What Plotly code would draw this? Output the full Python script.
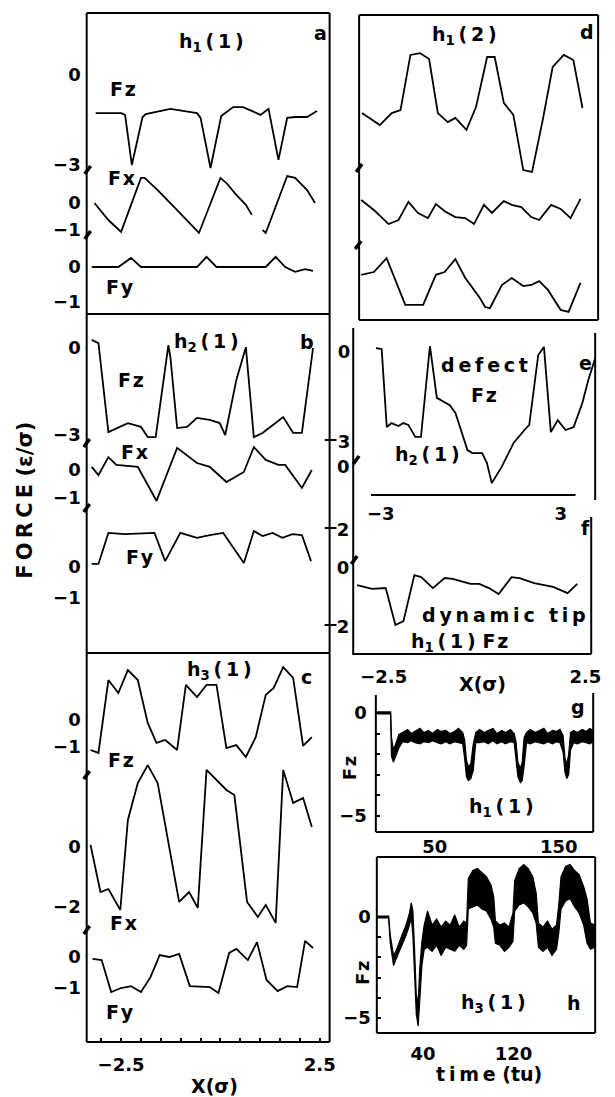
import plotly.graph_objects as go

W, H = 615, 1097
OFF = 8                      # default page margin of the html body
FW, FH = W - OFF, H - OFF    # figure size so that it fills the window

# ---------------- data ----------------
# panel a : h1(1)
a_fz_x = [-3.14, -2.50, -2.40, -2.23, -1.96, -1.88, -1.26, -0.59, -0.50, -0.25, 0.02, 0.32, 0.57, 1.01, 1.21, 1.46, 1.68, 1.88, 2.18, 2.43]
a_fz = [-1.27, -1.27, -1.33, -3.0, -1.4, -1.3, -1.13, -1.27, -1.43, -3.1, -1.37, -1.07, -1.07, -1.33, -1.13, -2.83, -1.43, -1.4, -1.4, -1.2]
a_fx_x = [-3.17, -2.82, -2.50, -2.00, -1.91, -1.58, -1.09, -0.54, 0.00, 0.15, 0.40, 0.64, 0.79, None, 1.06, 1.14, 1.68, 1.88, 2.18, 2.38]
a_fx = [0.0, -0.63, -1.07, 0.93, 0.93, 0.48, -0.26, -1.11, 0.93, 0.74, 0.30, -0.07, -0.44, None, -1.0, -1.11, 1.0, 0.93, 0.48, 0.0]
a_fy_x = [-3.24, -2.57, -2.25, -2.00, -0.59, -0.35, -0.10, 1.14, 1.39, 1.63, 1.88, 2.13, 2.33]
a_fy = [0, 0, 0.26, 0, 0, 0.29, 0, 0, 0.29, 0, -0.14, -0.06, -0.11]

# panel b : h2(1)
b_fz_x = [-3.24, -3.07, -2.82, -2.33, -2.00, -1.83, -1.63, -1.31, -1.26, -1.09, -0.84, -0.59, -0.27, -0.02, 0.12, 0.40, 0.64, 0.84, 1.06, 1.31, 1.58, 1.83, 2.05, 2.33]
b_fz = [0.28, 0.17, -2.9, -2.59, -2.72, -3.07, -3.07, 0.10, -0.31, -2.76, -2.72, -2.41, -2.48, -2.59, -3.0, -1.10, 0.03, -3.07, -2.93, -2.66, -2.38, -2.93, -2.93, 0.0]
b_fx_x = [-3.24, -3.07, -2.82, -2.62, -2.08, -1.61, -1.09, -0.59, -0.27, 0.15, 0.59, 0.84, 1.14, 1.46, 1.63, 2.05, 2.30]
b_fx = [0.11, -0.18, 0.46, 0.18, 0.11, -1.1, 0.79, 0.25, 0.11, -0.43, -0.07, 0.82, 0.36, 0.18, 0.18, -0.64, 0.0]
b_fy_x = [-3.24, -3.07, -2.82, -2.40, -1.66, -1.39, -1.01, -0.59, -0.27, 0.07, 0.59, 0.84, 1.06, 1.31, 1.56, 1.81, 2.05, 2.28]
b_fy = [0.1, 0.1, 1.1, 1.06, 1.1, 0.19, 1.1, 0.94, 1.03, 1.1, 0.13, 1.16, 1.0, 1.1, 0.94, 1.06, 1.03, 0.19]

# panel c : h3(1)
c_fz_x = [-3.27, -3.07, -2.82, -2.57, -2.33, -2.08, -1.83, -1.61, -1.39, -1.09, -0.87, -0.59, -0.35, -0.10, 0.15, 0.40, 0.64, 0.89, 1.14, 1.34, 1.58, 1.83, 2.08, 2.30]
c_fz = [-1.11, -1.22, 1.48, 1.0, 1.85, 1.48, -0.11, -0.85, -0.74, -1.11, 1.3, 0.85, 1.3, 1.3, -1.04, -0.93, -1.37, -0.63, 0.93, 1.19, 1.96, 1.56, -0.96, -0.63]
c_fx_x = [-3.27, -3.02, -2.82, -2.52, -2.33, -2.08, -1.83, -1.58, -1.04, -0.79, -0.57, -0.35, 0.15, 0.35, 0.67, 0.94, 1.14, 1.39, 1.58, 1.83, 2.08, 2.30]
c_fx = [0.07, -1.5, -1.4, -2.1, 0.9, 2.13, 2.73, 2.13, -1.83, -1.5, -2.03, 2.57, 1.9, 1.73, -1.83, -2.33, -1.93, -2.53, 2.57, 1.47, 1.63, 0.67]
c_fy_x = [-3.22, -2.99, -2.75, -2.50, -2.25, -2.00, -1.76, -1.53, -1.29, -1.04, -0.77, -0.27, -0.05, 0.22, 0.40, 0.69, 0.92, 1.16, 1.44, 1.68, 1.93, 2.13, 2.33]
c_fy = [-0.06, -0.1, -1.13, -1.0, -0.94, -1.13, -0.65, 0.06, 0.0, 0.1, -0.94, -0.97, -1.16, 0.13, 0.26, -0.1, 0.48, -0.74, -1.1, -0.94, -0.97, 0.52, 0.29]

# panel d : h1(2)
d_fz_x = [-3.27, -2.82, -2.52, -2.30, -2.05, -1.81, -1.58, -1.36, -1.11, -0.92, -0.64, -0.40, -0.12, 0.07, 0.30, 0.54, 0.79, 1.01, 1.29, 1.53, 1.81, 2.05, 2.28]
d_fz = [-1.27, -1.67, -1.27, -1.17, 0.67, 0.73, 0.53, -1.27, -1.57, -1.43, -1.83, -1.07, 0.6, 0.6, -0.93, -1.33, -3.17, -3.23, -1.43, 0.27, 0.67, 0.5, -1.1]
d_fx_x = [-3.29, -2.97, -2.60, -2.35, -2.10, -1.86, -1.61, -1.41, -1.16, -0.92, -0.67, -0.45, -0.20, 0.00, 0.30, 0.50, 0.74, 0.99, 1.19, 1.49, 1.73, 1.98, 2.23]
d_fx = [0.37, 0, -0.52, -0.37, 0.30, -0.11, -0.30, 0.22, -0.07, -0.26, -0.30, -0.52, 0.19, -0.11, 0.33, 0.19, 0.11, -0.26, -0.37, 0.19, 0.04, -0.30, 0.41]
d_fy_x = [-3.29, -2.97, -2.65, -2.18, -1.98, -1.73, -1.41, -1.19, -0.92, -0.67, -0.32, -0.17, -0.05, 0.25, 0.50, 0.79, 0.99, 1.19, 1.41, 1.73, 1.93, 2.23]
d_fy = [0.29, 0.37, 0.77, -0.57, -0.57, -0.57, 0.29, 0.37, 0.74, 0.2, -0.34, -0.63, -0.66, 0, 0.2, -0.03, 0, 0.11, -0.14, -0.71, -0.77, 0.06]

# panel e : defect Fz, h2(1)
e_x = [-3.16, -2.97, -2.80, -2.64, -2.41, -2.25, -2.08, -1.85, -1.66, -1.36, -1.13, -0.70, -0.51, -0.11, 0.05, 0.38, 0.54, 0.70, 1.03, 1.43, 1.79, 1.95, 2.25, 2.44, 2.67, 2.90, 3.16, 3.43, 3.72, 3.92, 4.15]
e_fz = [0.13, 0.1, -2.5, -2.37, -2.47, -2.37, -2.43, -2.83, -2.83, 0.2, -1.53, -1.77, -2.03, -3.27, -3.37, -3.37, -3.7, -4.37, -3.83, -3.03, -2.6, -2.43, -0.1, 0.17, -2.67, -2.27, -2.6, -2.5, -1.7, -0.93, -0.2]

# panel f : dynamic tip, h1(1) Fz
f_x = [-3.16, -2.79, -2.45, -2.21, -2.01, -1.74, -1.57, -1.28, -0.99, -0.79, -0.35, -0.13, 0.11, 0.35, 0.67, 0.87, 1.23, 1.70, 2.06, 2.30]
f_fz = [-0.58, -0.71, -0.68, -1.93, -1.80, -0.24, -0.31, -0.68, -0.34, -0.37, -0.54, -0.54, -0.68, -0.88, -0.31, -0.34, -0.51, -0.64, -0.85, -0.54]

# panel g : Fz(time) h1(1), upper / lower edge of the noisy trace
g_t = [2.4, 14.3, 15.0, 16.5, 18.5, 21, 24, 28, 31, 34, 38, 41, 45, 48, 52, 55, 59, 62, 66, 69, 72.5,
       74, 75.5, 77, 79, 81, 83, 86, 90, 93, 97, 100, 104, 107, 111, 114,
       115.5, 117, 119, 120.5, 122, 124, 127, 131, 134, 138, 141, 145, 148, 151,
       153.5, 155, 156.5, 158, 159.5, 162, 165, 169, 172, 175, 177.8]
g_hi = [0.05, 0.05, -1.2, -1.8, -1.5, -1.05, -0.95, -0.8, -1.0, -0.9, -0.75, -0.95, -0.85, -1.0, -0.8, -0.9, -0.85, -1.0, -0.9, -0.75, -0.95,
        -1.3, -2.3, -2.6, -2.5, -1.5, -0.95, -0.8, -0.95, -0.85, -0.75, -1.0, -0.85, -0.95, -0.8, -1.0,
        -1.4, -2.4, -2.7, -2.4, -1.2, -0.95, -0.8, -0.95, -0.85, -0.75, -1.0, -0.85, -0.9, -0.8,
        -1.1, -2.2, -2.5, -2.0, -0.95, -0.85, -0.95, -0.8, -0.9, -0.75, -0.85]
g_lo = [-0.05, -0.05, -2.1, -2.4, -2.1, -1.7, -1.4, -1.45, -1.35, -1.45, -1.5, -1.4, -1.45, -1.35, -1.45, -1.5, -1.4, -1.5, -1.4, -1.45, -1.5,
        -2.2, -3.1, -3.3, -3.2, -2.8, -1.45, -1.45, -1.4, -1.5, -1.35, -1.5, -1.4, -1.5, -1.4, -1.45,
        -2.3, -3.1, -3.4, -3.3, -2.6, -1.45, -1.5, -1.4, -1.45, -1.5, -1.4, -1.5, -1.4, -1.45,
        -1.9, -2.9, -3.2, -3.0, -1.8, -1.45, -1.5, -1.4, -1.45, -1.5, -1.4]

# panel h : Fz(time) h3(1)
h_t = [-0.9, 9.6, 11, 13.9, 16, 19, 22, 25, 28, 29.6, 31, 32.5, 34, 35.7, 37, 39, 41,
       44, 48, 52, 56, 60, 64, 68, 72, 76, 78.5,
       80, 84, 88, 92, 96, 100, 102.5,
       104, 108, 112, 116, 119.5,
       121, 125, 129, 133, 137, 140,
       142, 146, 150, 154, 158,
       160, 162, 166, 170, 174, 178, 182, 185, 188, 192]
h_hi = [0.05, 0.05, -0.9, -1.9, -1.7, -1.2, -0.8, -0.4, 0.2, 0.7, 0.3, -1.6, -3.8, -4.3, -2.6, -1.2, -0.4,
        0.3, -0.4, -0.1, -0.5, -0.2, -0.4, 0.1, -0.5, -0.2, -0.3,
        1.9, 2.3, 2.4, 2.2, 2.0, 1.6, 1.0,
        -0.2, -0.4, -0.3, -0.5, 0.2,
        1.8, 2.4, 2.6, 2.4, 2.0, 1.2,
        -0.3, -0.5, -0.2, -0.6, -0.4,
        0.6, 2.0, 2.5, 2.6, 2.3, 2.1, 1.5, 0.9, -0.3, -0.4]
h_lo = [-0.05, -0.05, -1.3, -2.4, -2.1, -1.7, -1.3, -0.9, -0.4, 0.0, -0.9, -3.0, -4.8, -5.4, -4.1, -2.4, -1.6,
        -1.5, -1.7, -1.4, -1.9, -1.5, -1.6, -1.7, -1.4, -1.6, -1.4,
        0.4, 0.5, 0.6, 0.4, 0.3, -0.1, -0.5,
        -1.3, -1.4, -1.7, -1.5, -1.2,
        0.3, 0.6, 0.7, 0.5, 0.2, -0.3,
        -1.5, -1.7, -1.5, -1.9, -1.6,
        -0.8, 0.4, 0.8, 0.9, 0.5, 0.2, -0.4, -1.3, -1.6, -1.5]

# tick values and labels
ticks_a = {"fz": ([0, -3], ["0", "−3"]), "fx": ([0, -1], ["0", "−1"]), "fy": ([0, -1], ["0", "−1"])}
ticks_b = {"fz": ([0, -3], ["0", "−3"]), "fx": ([0, -1], ["0", "−1"]), "fy": ([0, -1], ["0", "−1"])}
ticks_c = {"fz": ([0, -1], ["0", "−1"]), "fx": ([0, -2], ["0", "−2"]), "fy": ([0, -1], ["0", "−1"])}
ticks_e = ([0, -3], ["0", "3"])            # the minus of "-3" is the tick of panel b's edge
ticks_f = ([1.29, 0, -2], ["2", "0", "2"])
ticks_g = ([0, -5], ["0", "−5"])
ticks_h = ([0, -5], ["0", "−5"])
xt_left = ([-2.5, 2.5], ["−2.5", "2.5"])
xt_e = ([-3, 3], ["−3", "3"])
xt_f = ([-2.5, 2.5], ["−2.5", "2.5"])
xt_g = ([50, 150], ["50", "150"])
xt_h = ([40, 120], ["40", "120"])

# ---------------- helpers (pixel geometry -> paper / axis ranges) ----------------
def fx(p):
    return (p - OFF) / FW

def fy(p):
    return 1 - (p - OFF) / FH

def xrange_(L, R, v1, p1, v2, p2):
    k = (p2 - p1) / (v2 - v1)
    return [v1 - (p1 - L) / k, v1 + (R - p1) / k]

def yrange_(T, B, p0, s):
    return [(p0 - B) / s, (p0 - T) / s]

TS = "\u2009"  # thin space used to mimic the wide letter spacing of the original
HS = "\u200a"  # hair space


def spaced(s, sep=TS):
    return sep.join(s)

FONT = dict(family="DejaVu Sans", size=18, color="black", weight="bold")
LINE = dict(color="black", width=1.8)

layout = dict(width=FW, height=FH, margin=dict(l=0, r=0, t=0, b=0),
              paper_bgcolor="white", plot_bgcolor="rgba(0,0,0,0)", showlegend=False)

base_ax = dict(showgrid=False, zeroline=False, showline=False, fixedrange=True, tickfont=FONT)


def add_axis(key, d, ticks, standoff, tick_style, minor):
    if ticks is None:
        d.update(showticklabels=False, ticks="")
    else:
        d.update(tickmode="array", tickvals=ticks[0], ticktext=ticks[1], ticks=tick_style,
                 ticklen=4, tickcolor="black", tickwidth=1.5, ticklabelstandoff=standoff)
    if minor is not None:
        d["minor"] = dict(tickmode="array", tickvals=minor, ticks="inside", ticklen=4,
                          tickcolor="black", tickwidth=1.5)
    layout[key] = d


def add_x(n, L, R, v1, p1, v2, p2, anchor, ticks=None, standoff=0, tick_style="", minor=None):
    d = dict(base_ax, domain=[fx(L), fx(R)], range=xrange_(L, R, v1, p1, v2, p2), anchor=anchor)
    add_axis("xaxis" if n == 1 else f"xaxis{n}", d, ticks, standoff, tick_style, minor)


def add_y(n, T, B, p0, s, anchor, ticks=None, standoff=5, tick_style="", minor=None):
    d = dict(base_ax, domain=[fy(B), fy(T)], range=yrange_(T, B, p0, s), anchor=anchor)
    add_axis("yaxis" if n == 1 else f"yaxis{n}", d, ticks, standoff, tick_style, minor)


add_x(1, 88, 335, -2.5, 123, 2.5, 325, "y")
add_x(2, 88, 335, -2.5, 123, 2.5, 325, "y4")
add_x(3, 88, 335, -2.5, 123, 2.5, 325, "y7", xt_left, 10, "inside",
      [-3.0, -2.0, -1.5, -1.0, -0.5, 0.0, 0.5, 1.0, 1.5, 2.0])
add_x(4, 365, 608, -2.5, 399, 2.5, 601, "y10")
add_x(5, 359, 605, -3, 387, 3, 570, "y13", xt_e, 6)
add_x(6, 358, 601, -2.5, 390, 2.5, 595, "y14", xt_f, 10)
add_x(7, 382, 603, 50, 442, 150, 568, "y15", xt_g, 2)
add_x(8, 383, 605, 40, 430, 120, 522, "y16", xt_h, 8)

add_y(1, 13, 314, 75, 30, "x", ticks_a["fz"])
add_y(2, 13, 314, 203, 27, "x", ticks_a["fx"])
add_y(3, 13, 314, 267, 35, "x", ticks_a["fy"])
add_y(4, 314, 653, 348, 29, "x2", ticks_b["fz"])
add_y(5, 314, 653, 470, 28, "x2", ticks_b["fx"])
add_y(6, 314, 653, 567, 31, "x2", ticks_b["fy"])
add_y(7, 653, 1042, 720, 27, "x3", ticks_c["fz"])
add_y(8, 653, 1042, 847, 30, "x3", ticks_c["fx"])
add_y(9, 653, 1042, 957, 31, "x3", ticks_c["fy"])
add_y(10, 15, 320, 75, 30, "x4")
add_y(11, 15, 320, 210, 27, "x4")
add_y(12, 15, 320, 285, 35, "x4")
add_y(13, 328, 495, 352, 30, "x5", ticks_e, 2)
add_y(14, 500, 654, 568, 29.5, "x6", ticks_f, 2)
add_y(15, 695, 832, 713, 20.5, "x7", ticks_g, 8, "inside", [-1, -2, -3, -4])
add_y(16, 857, 1033, 917, 20.2, "x8", ticks_h, 5, "inside", [-1, -2, -3, -4])

fig = go.Figure()


def line(x, y, xa, ya):
    fig.add_trace(go.Scatter(x=x, y=y, xaxis=xa, yaxis=ya, mode="lines", line=LINE,
                             hoverinfo="skip", connectgaps=False))


line(a_fz_x, a_fz, "x", "y")
line(a_fx_x, a_fx, "x", "y2")
line(a_fy_x, a_fy, "x", "y3")
line(b_fz_x, b_fz, "x2", "y4")
line(b_fx_x, b_fx, "x2", "y5")
line(b_fy_x, b_fy, "x2", "y6")
line(c_fz_x, c_fz, "x3", "y7")
line(c_fx_x, c_fx, "x3", "y8")
line(c_fy_x, c_fy, "x3", "y9")
line(d_fz_x, d_fz, "x4", "y10")
line(d_fx_x, d_fx, "x4", "y11")
line(d_fy_x, d_fy, "x4", "y12")
line(e_x, e_fz, "x5", "y13")
line(f_x, f_fz, "x6", "y14")

# noisy time traces: black band between lower and upper edge
for t, lo, hi, xa, ya in [(g_t, g_lo, g_hi, "x7", "y15"), (h_t, h_lo, h_hi, "x8", "y16")]:
    fig.add_trace(go.Scatter(x=t, y=lo, xaxis=xa, yaxis=ya, mode="lines",
                             line=dict(color="black", width=1.2), hoverinfo="skip"))
    fig.add_trace(go.Scatter(x=t, y=hi, xaxis=xa, yaxis=ya, mode="lines", fill="tonexty",
                             fillcolor="black", line=dict(color="black", width=1.2), hoverinfo="skip"))

# ---------------- frames, break marks ----------------
shapes = []


def seg(x0, y0, x1, y1, w=2):
    shapes.append(dict(type="line", xref="paper", yref="paper", x0=fx(x0), y0=fy(y0),
                       x1=fx(x1), y1=fy(y1), line=dict(color="black", width=w)))


def box(L, T, R, B):
    seg(L, T, R, T); seg(R, T, R, B); seg(R, B, L, B); seg(L, B, L, T)


box(88, 13, 335, 314)
box(88, 314, 335, 653)
box(88, 653, 335, 1042)
box(365, 15, 608, 320)
seg(359, 328, 359, 654)          # e/f left edge
seg(605, 333, 605, 500)          # e right edge
seg(377, 495, 585, 495)          # e x axis
seg(358, 654, 601, 654)          # f bottom
seg(601, 517, 601, 654)          # f right
seg(382, 695, 382, 832)          # g
seg(382, 832, 603, 832)
seg(603, 693, 603, 832)
box(383, 857, 605, 1033)         # h
for yy in (440, 528, 625):       # ticks crossing the right edge of b
    seg(330, yy, 342, yy, 2)
for (bx, by) in [(89, 170), (89, 235), (88, 443), (88, 508), (88, 775), (88, 930),
                 (365, 168), (364, 245), (362, 460), (360, 560)]:
    seg(bx - 3, by + 4, bx + 3, by - 4, 3.5)

# ---------------- texts ----------------
ann = []


def txt(s, x, y, size=19, angle=0):
    ann.append(dict(text=s, x=fx(x), y=fy(y), xref="paper", yref="paper", showarrow=False,
                    xanchor="center", yanchor="middle", textangle=angle,
                    font=dict(FONT, size=size)))


def hlab(sub, arg):
    return f"h<sub>{sub}</sub>{TS}({TS}{arg}{TS})"


FZ, FXL, FYL = spaced("Fz", HS), spaced("Fx", HS), spaced("Fy", HS)
txt(hlab(1, 1), 215, 42); txt("a", 326, 33)
txt(FZ, 125, 89); txt(FXL, 123, 178); txt(FYL, 122, 287)
txt(hlab(2, 1), 210, 343); txt("b", 312, 342)
txt(FZ, 133, 380); txt(FXL, 137, 452); txt(FYL, 142, 557)
txt(hlab(3, 1), 223, 670); txt("c", 312, 677)
txt(FZ, 123, 760); txt(FXL, 125, 923); txt(FYL, 122, 1012)
txt(hlab(1, 2), 472, 35); txt("d", 597, 32)
txt(spaced("defect"), 492, 365); txt(FZ, 492, 395); txt("e", 595, 363)
txt(hlab(2, 1), 435, 455)
txt("0", 349, 467, 18)
txt("f", 595, 528)
txt(spaced("dynamic tip"), 512, 615); txt(hlab(1, 1) + " " + FZ, 467, 642)
txt("g", 588, 707); txt(hlab(1, 1), 510, 807); txt(FZ, 355, 768, 18, -90)
txt(hlab(3, 1), 502, 1003); txt("h", 583, 1003); txt(FZ, 368, 973, 18, -90)
txt("X(σ)", 218, 1086); txt("X(σ)", 490, 684); txt(spaced("time") + " (tu)", 497, 1074)
txt(spaced("FORCE") + " (ε/σ)", 25, 500, 21, -90)

layout["shapes"] = shapes
layout["annotations"] = ann
fig.update_layout(**layout)
fig.write_html("out.html")
